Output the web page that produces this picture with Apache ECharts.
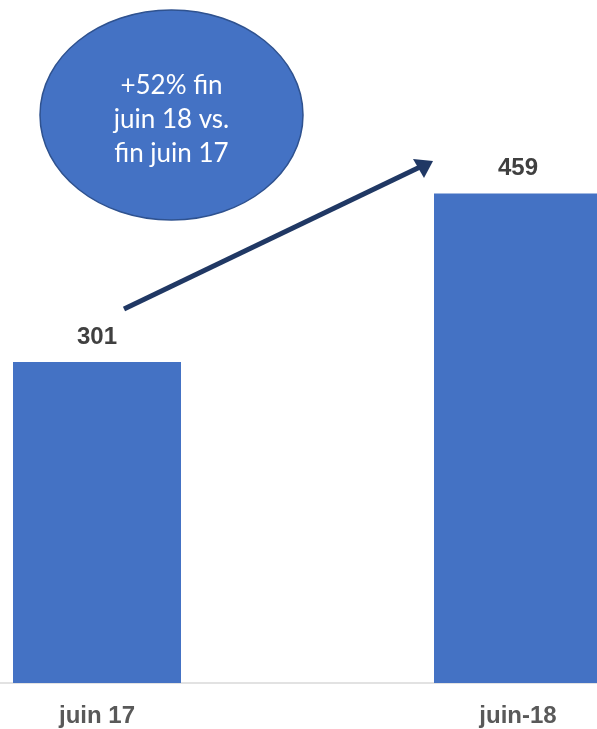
<!DOCTYPE html>
<html><head><meta charset="utf-8">
<script src="https://cdn.jsdelivr.net/npm/echarts@6/dist/echarts.min.js"></script>
<style>html,body{margin:0;padding:0;background:#fff}#c{width:597px;height:729px}</style>
</head><body><div id="c"></div>
<script>
const categories = ['juin 17', 'juin-18'];
const values = [301, 459];
const noteLines = ['+52% fin', 'juin 18 vs.', 'fin juin 17'];

const chart = echarts.init(document.getElementById('c'), null, {renderer: 'canvas'});
chart.setOption({
  animation: false,
  grid: {left: -113.5, right: -131.5, top: 43, bottom: 46, outerBoundsMode: 'none', containLabel: false},
  xAxis: {
    type: 'category', data: categories,
    axisLine: {show: true, lineStyle: {color: '#d9d9d9', width: 1.5}},
    axisTick: {show: false},
    axisLabel: {margin: 21, fontFamily: 'Liberation Sans', fontWeight: 'bold', fontSize: 24, color: '#595959'}
  },
  yAxis: {type: 'value', min: 0, max: 600, show: false, splitLine: {show: false}},
  series: [{
    type: 'bar', data: values, barWidth: 168,
    itemStyle: {color: '#4472C4'},
    label: {show: true, position: 'top', distance: 13, fontFamily: 'Liberation Sans', fontWeight: 'bold', fontSize: 24, color: '#404040'}
  }],
  graphic: [
    {type: 'ellipse', shape: {cx: 171.5, cy: 115, rx: 131.5, ry: 105},
     style: {fill: '#4472C4', stroke: '#2F528F', lineWidth: 1.5}, z: 10},
    {type: 'text', x: 171.5, y: 120, z: 11,
     style: {text: noteLines.join('\n'), fill: '#fff', font: '26px Lato', lineHeight: 34, align: 'center', verticalAlign: 'middle'}},
    {type: 'line', shape: {x1: 124, y1: 309, x2: 420, y2: 167},
     style: {stroke: '#203864', lineWidth: 5}, z: 10},
    {type: 'polygon', shape: {points: [[433, 161], [413, 159], [424, 178]]},
     style: {fill: '#203864'}, z: 10}
  ]
});
</script></body></html>
